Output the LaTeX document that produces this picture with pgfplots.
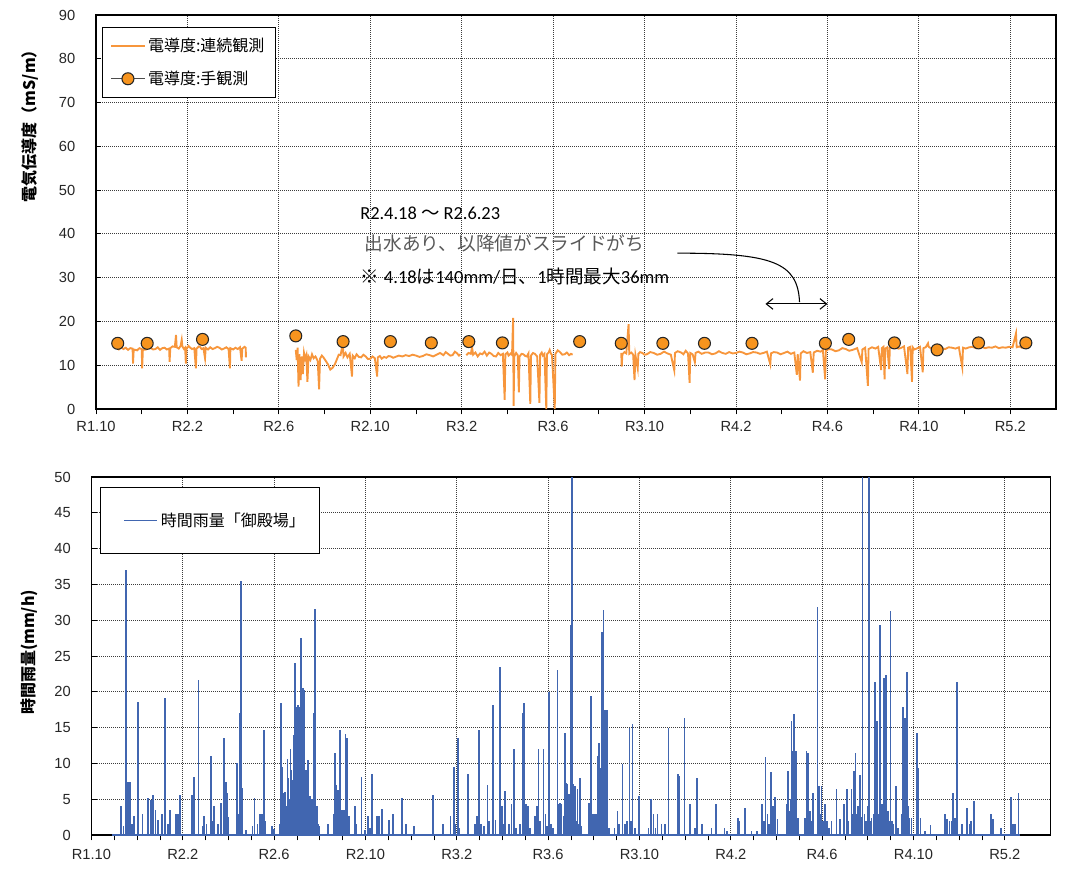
\documentclass[border=0pt]{standalone}
\usepackage{fontspec}
\setmainfont{Liberation Sans}
\newfontfamily\jp{Noto Sans CJK JP}
\newfontfamily\calib{Carlito}
\usepackage{pgfplots}
\pgfplotsset{compat=1.18}
\usetikzlibrary{arrows.meta}

\definecolor{ecorange}{RGB}{247,150,60}
\definecolor{markorange}{RGB}{247,148,30}
\definecolor{rainblue}{RGB}{65,102,176}
\definecolor{gridgray}{RGB}{60,60,60}
\definecolor{notegray}{RGB}{89,89,89}

% x axis: months counted from R1.10 (Oct 2019)
\pgfplotsset{
  panel/.style={
    scale only axis, xmin=0, xmax=42,
    xtick={0,4,...,40},
    xticklabels={R1.10,R2.2,R2.6,R2.10,R3.2,R3.6,R3.10,R4.2,R4.6,R4.10,R5.2},
    tick pos=left,
    grid=major,
    major grid style={gridgray, dash pattern=on 0.75pt off 0.75pt, line width=0.6pt},
    tick align=inside,
    major tick length=4pt, minor tick length=4pt,
    tick style={black, line width=0.6pt},
    x tick style={yshift=-4pt},
    axis line style={black, line width=0.8pt},
    ticklabel style={font=\fontsize{11}{13}\selectfont, text=black!85},
    yticklabel style={xshift=-12pt},
    /pgf/number format/assume math mode=true,
    legend cell align=left,
  },
  lineleg/.style={legend image code/.code={\draw[#1, line width=1.1pt] (0pt,0pt) -- (25pt,0pt);}},
  padlineleg/.style={legend image code/.code={\path (-8pt,0pt); \draw[#1, line width=1.1pt] (0pt,0pt) -- (25pt,0pt);}},
  markleg/.style={legend image code/.code={
    \draw[gray!60!black, line width=0.9pt] (0pt,0pt) -- (25pt,0pt);
    \draw[fill=markorange, draw=black!85, line width=0.8pt] (12.5pt,0pt) circle (4.5pt);}},
}

\begin{document}
\begin{tikzpicture}
\useasboundingbox (0pt,0pt) rectangle (801.75pt,-651.75pt);

% ---------------- electrical conductivity ----------------
\begin{axis}[panel,
  at={(72pt,-11.25pt)}, anchor=north west,
  width=720pt, height=295.5pt,
  ymin=0, ymax=90, ytick={0,10,...,90},
  minor x tick num=1,
  xticklabel style={yshift=-5.8pt},
  ylabel={\jp\bfseries 電気伝導度（mS/m）},
  ylabel style={at={(axis description cs:-0.069,0.728)}, anchor=center, font=\fontsize{12}{14}\selectfont},
  unbounded coords=jump,
  legend style={at={(axis description cs:0.00625,0.9695)}, anchor=north west,
    draw=black, line width=0.8pt, fill=white, font=\jp\fontsize{12}{14}\selectfont,
    row sep=9pt, inner xsep=6pt, inner ysep=6pt},
]
\addplot[ecorange, line width=1.4pt, lineleg=ecorange]
  table[row sep=\\] {
x y\\
0.90 14.0\\ 1.00 13.6\\ 1.10 14.1\\ 1.20 13.7\\ 1.30 14.0\\ 1.40 13.5\\ 1.50 13.9\\ 1.60 13.8\\ 1.62 10.4\\ 1.65 13.6\\
1.80 13.4\\ 1.90 13.9\\ 2.00 13.7\\ 2.02 9.3\\ 2.05 13.5\\ 2.20 13.6\\ 2.30 14.0\\ 2.40 13.9\\ 2.50 13.6\\ 2.60 13.7\\
2.70 14.1\\ 2.80 13.5\\ 2.90 13.9\\ 3.00 14.0\\ 3.10 13.6\\ 3.20 13.8\\ 3.22 10.8\\ 3.25 13.9\\ 3.35 14.3\\ 3.45 14.2\\
3.50 16.9\\ 3.53 14.1\\ 3.62 13.8\\ 3.70 14.4\\ 3.75 15.8\\ 3.78 14.3\\ 3.85 13.7\\ 3.90 14.0\\ 3.93 10.4\\ 3.96 13.8\\
4.05 14.4\\ 4.10 14.1\\ 4.20 13.7\\ 4.30 13.9\\ 4.37 9.3\\ 4.40 13.8\\ 4.50 14.3\\ 4.55 14.2\\ 4.62 13.7\\ 4.70 13.9\\
4.77 11.6\\ 4.80 14.0\\ 4.90 13.6\\ 5.00 14.1\\ 5.10 13.7\\ 5.20 13.9\\ 5.30 14.2\\ 5.40 14.0\\ 5.50 13.6\\ 5.60 13.8\\
5.70 14.1\\ 5.80 13.7\\ 5.86 9.3\\ 5.88 13.9\\ 6.00 13.6\\ 6.10 14.0\\ 6.20 13.7\\ 6.30 14.1\\ 6.37 11.0\\ 6.40 13.8\\
6.50 14.2\\ 6.55 14.0\\ 6.56 11.8\\
6.60 nan\\
8.74 13.5\\ 8.78 11.2\\ 8.82 14.0\\ 8.86 5.1\\ 8.90 12.5\\ 8.95 6.6\\ 9.00 12.0\\ 9.05 8.0\\ 9.10 12.8\\ 9.15 11.5\\
9.20 12.3\\ 9.25 6.2\\ 9.30 12.0\\ 9.38 11.2\\ 9.45 12.5\\ 9.52 11.6\\ 9.60 12.0\\ 9.70 11.0\\ 9.76 4.5\\ 9.80 11.5\\
9.88 12.2\\ 9.95 11.8\\ 10.05 11.0\\ 10.15 10.2\\ 10.25 9.0\\ 10.35 9.4\\ 10.45 10.2\\ 10.55 11.5\\ 10.62 12.4\\ 10.70 12.3\\
10.80 15.0\\ 10.83 12.0\\ 10.92 12.8\\ 11.00 11.8\\ 11.10 12.6\\ 11.20 7.4\\ 11.23 12.2\\ 11.32 11.6\\ 11.40 12.5\\ 11.50 11.9\\
11.60 11.8\\ 11.70 12.4\\ 11.80 12.0\\ 11.90 11.4\\ 12.00 11.5\\ 12.10 12.0\\ 12.20 11.6\\ 12.30 7.4\\ 12.33 11.8\\ 12.42 12.1\\
12.50 11.5\\ 12.60 11.9\\ 12.70 11.7\\ 12.80 12.1\\ 12.90 12.0\\ 13.00 11.7\\ 13.10 11.9\\ 13.25 12.2\\ 13.40 12.0\\ 13.55 12.3\\
13.70 12.1\\ 13.85 12.4\\ 14.00 12.2\\ 14.15 11.9\\ 14.30 12.1\\ 14.45 12.5\\ 14.60 12.3\\ 14.75 12.0\\ 14.90 12.4\\ 15.05 12.8\\
15.20 12.3\\ 15.30 13.0\\ 15.40 12.6\\ 15.50 12.2\\ 15.60 12.3\\ 15.70 13.1\\ 15.80 12.7\\ 15.88 12.2\\ 15.94 12.5\\
16.00 nan\\
16.20 12.3\\ 16.30 12.8\\ 16.40 12.6\\ 16.45 14.2\\ 16.50 12.4\\ 16.60 12.9\\ 16.70 12.0\\ 16.80 12.7\\ 16.90 12.5\\ 17.00 13.1\\
17.10 12.2\\ 17.20 12.9\\ 17.30 12.6\\ 17.40 12.1\\ 17.50 12.0\\ 17.60 12.8\\ 17.70 12.3\\ 17.80 12.6\\ 17.88 2.1\\ 17.91 12.5\\
18.00 12.9\\ 18.05 12.2\\ 18.15 12.7\\ 18.20 12.4\\ 18.25 20.8\\ 18.27 0.7\\ 18.30 12.0\\ 18.38 12.8\\ 18.45 12.3\\ 18.50 3.8\\
18.53 12.0\\ 18.62 12.6\\ 18.70 12.5\\ 18.78 12.1\\ 18.85 12.0\\ 18.92 12.7\\ 19.00 1.2\\ 19.03 12.2\\ 19.12 12.8\\ 19.20 12.6\\
19.30 12.0\\ 19.40 1.4\\ 19.43 12.4\\ 19.50 12.9\\ 19.55 12.2\\ 19.62 12.6\\ 19.70 0.0\\ 19.73 12.5\\ 19.80 12.9\\ 19.85 13.5\\
19.90 12.7\\ 19.95 12.3\\ 20.07 0.0\\ 20.10 12.6\\ 20.20 13.4\\ 20.30 13.0\\ 20.40 12.4\\ 20.50 12.5\\ 20.60 12.9\\ 20.70 12.3\\
20.78 12.6\\ 20.85 12.4\\
20.90 nan\\
22.98 12.8\\ 23.00 9.7\\ 23.03 12.5\\ 23.12 13.0\\ 23.20 12.7\\ 23.30 19.4\\ 23.33 12.6\\ 23.42 12.9\\ 23.50 12.4\\ 23.56 6.6\\
23.60 12.3\\ 23.70 9.3\\ 23.73 12.6\\ 23.80 13.0\\ 23.90 12.8\\ 24.00 12.4\\ 24.10 12.5\\ 24.25 13.0\\ 24.40 12.8\\ 24.55 12.4\\
24.70 12.6\\ 24.85 13.1\\ 25.00 12.7\\ 25.15 12.4\\ 25.30 8.8\\ 25.33 12.8\\ 25.45 13.2\\ 25.60 12.9\\ 25.70 12.5\\ 25.80 13.3\\
25.90 12.7\\ 25.97 6.0\\ 26.00 12.8\\ 26.10 12.5\\ 26.20 10.7\\ 26.23 12.8\\ 26.35 13.1\\ 26.50 12.6\\ 26.65 12.9\\ 26.80 12.9\\
26.95 12.5\\ 27.10 12.7\\ 27.25 13.2\\ 27.40 12.8\\ 27.55 12.6\\ 27.70 13.0\\ 27.85 12.7\\ 28.00 12.8\\ 28.15 13.1\\ 28.30 12.9\\
28.45 12.5\\ 28.60 12.7\\ 28.75 13.0\\ 28.90 12.9\\ 29.05 12.6\\ 29.20 12.8\\ 29.35 13.1\\ 29.50 10.2\\ 29.53 12.7\\ 29.65 13.0\\
29.80 12.9\\ 29.95 12.5\\ 30.10 12.8\\ 30.25 13.1\\ 30.40 12.6\\ 30.55 12.9\\ 30.66 7.8\\ 30.70 12.5\\ 30.80 6.5\\ 30.83 12.7\\
30.95 13.2\\ 31.10 12.8\\ 31.25 13.0\\ 31.36 8.3\\ 31.40 12.9\\ 31.55 13.3\\ 31.70 13.1\\ 31.80 13.5\\ 31.90 6.8\\ 31.93 13.3\\
32.05 13.7\\ 32.20 13.6\\ 32.35 13.2\\ 32.50 13.4\\ 32.65 13.9\\ 32.80 13.7\\ 32.95 13.3\\ 33.10 13.5\\ 33.30 13.9\\ 33.50 10.7\\
33.53 13.6\\ 33.65 14.0\\ 33.77 5.3\\ 33.80 13.7\\ 33.95 14.1\\ 34.10 13.8\\ 34.22 14.2\\ 34.35 8.9\\ 34.38 13.9\\ 34.45 14.2\\
34.50 6.8\\ 34.53 13.8\\ 34.62 14.1\\ 34.70 9.1\\ 34.73 14.0\\ 34.85 14.3\\ 35.00 14.1\\ 35.10 13.8\\ 35.20 13.9\\ 35.35 14.3\\
35.50 8.0\\ 35.53 14.0\\ 35.62 14.2\\ 35.70 6.2\\ 35.73 14.1\\ 35.80 13.6\\ 35.90 13.8\\ 36.05 14.2\\ 36.17 8.4\\ 36.20 13.9\\
36.30 14.1\\ 36.40 15.0\\ 36.43 14.2\\ 36.55 13.8\\ 36.70 14.0\\ 36.85 14.3\\ 37.00 13.9\\ 37.15 13.7\\ 37.30 14.1\\ 37.45 14.0\\
37.60 13.8\\ 37.75 14.1\\ 37.90 9.5\\ 37.93 14.0\\ 38.05 13.8\\ 38.20 14.1\\ 38.35 14.2\\ 38.50 13.9\\ 38.60 15.5\\ 38.63 14.0\\
38.75 14.2\\ 38.90 13.9\\ 39.05 14.1\\ 39.20 14.0\\ 39.35 14.3\\ 39.50 13.9\\ 39.65 14.1\\ 39.80 14.0\\ 39.95 14.2\\ 40.10 14.1\\
40.25 17.3\\ 40.28 14.1\\ 40.40 14.3\\ 40.50 14.0\\ 40.65 14.2\\ 40.80 14.0\\
};
\addlegendentry{電導度:連続観測}

\addplot[only marks, mark=*, mark size=4.5pt,
  mark options={fill=markorange, draw=black!85, line width=0.8pt}, markleg]
  table[row sep=\\] {
x y\\
0.95 15.0\\ 2.24 15.0\\ 4.66 15.9\\ 8.74 16.7\\ 10.81 15.4\\ 12.88 15.4\\ 14.67 15.1\\
16.31 15.4\\ 17.78 15.1\\ 21.16 15.4\\ 22.98 15.0\\ 24.80 15.0\\ 26.62 15.0\\ 28.70 15.0\\
31.91 15.0\\ 32.93 15.9\\ 34.93 15.1\\ 36.80 13.5\\ 38.61 15.1\\ 40.68 15.1\\
};
\addlegendentry{電導度:手観測}

% note on the flood event
\node[anchor=west, inner sep=0pt, font=\fontsize{13.8}{16}\selectfont]
  at (axis cs:11.55,44.8) {\calib R2.4.18 {\jp 〜} R2.6.23};
\node[anchor=west, inner sep=0pt, font=\fontsize{14}{16}\selectfont, text=notegray]
  at (axis cs:11.75,37.9) {\jp 出水あり、以降値がスライドがち};
\node[anchor=west, inner sep=0pt, font=\fontsize{13.9}{16}\selectfont]
  at (axis cs:11.55,30.2) {{\jp ※} \calib 4.18{\jp は}140mm/{\jp 日、}1{\jp 時間最大}36mm};
\draw[black, line width=0.8pt] (axis cs:25.44,35.6) .. controls (axis cs:29.6,35.6) and (axis cs:30.7,33.5) .. (axis cs:30.78,24.4);
\draw[black, line width=0.8pt, {Straight Barb[length=5pt,width=8pt]}-{Straight Barb[length=5pt,width=8pt]}]
  (axis cs:29.29,24.0) -- (axis cs:32.0,24.0);
\end{axis}

% ---------------- hourly rainfall ----------------
\begin{axis}[panel,
  at={(68.6pt,-357.75pt)}, anchor=north west,
  width=719.25pt, height=268.5pt,
  ymin=0, ymax=50, ytick={0,5,...,50},
  minor x tick num=3,
  xticklabel style={yshift=-7.5pt},
  ylabel={\jp\bfseries 時間雨量(mm/h)},
  ylabel style={at={(axis description cs:-0.065,0.51)}, anchor=center, font=\fontsize{12}{14}\selectfont},
  legend style={at={(axis description cs:0.0089,0.972)}, anchor=north west,
    draw=black, line width=0.8pt, fill=white, font=\jp\fontsize{12}{14}\selectfont,
    inner xsep=9pt, inner ysep=17pt},
]
\addplot[ycomb, rainblue, line width=1.3pt, no markers, padlineleg=rainblue]
  table[row sep=\\] {
x y\\
1.30 4.0\\ 1.40 1.2\\ 1.52 37.0\\ 1.60 7.4\\ 1.69 7.4\\ 1.78 1.6\\ 1.85 2.6\\ 2.03 18.6\\ 2.24 3.0\\ 2.49 5.1\\
2.61 4.9\\ 2.68 5.6\\ 2.80 3.5\\ 2.90 2.1\\ 3.09 3.0\\ 3.22 19.1\\ 3.34 1.6\\ 3.45 3.5\\ 3.70 3.0\\ 3.79 3.0\\
3.88 5.6\\ 4.39 5.6\\ 4.45 2.0\\ 4.50 8.1\\ 4.69 21.6\\ 4.87 1.2\\ 4.94 2.6\\ 5.04 1.6\\ 5.23 11.0\\ 5.30 2.0\\
5.38 4.0\\ 5.54 1.6\\ 5.68 4.5\\ 5.80 13.5\\ 5.85 3.0\\ 5.89 7.4\\ 5.96 5.8\\ 6.00 2.5\\ 6.37 10.0\\ 6.45 3.0\\
6.50 17.0\\ 6.54 35.5\\ 6.58 4.0\\ 6.62 6.5\\ 6.76 0.7\\ 7.05 1.2\\ 7.14 5.1\\ 7.27 1.6\\ 7.39 3.0\\ 7.46 3.0\\
7.56 14.6\\ 7.62 2.0\\ 7.90 1.2\\ 8.00 0.9\\ 8.25 1.6\\ 8.30 18.5\\ 8.36 9.5\\ 8.40 3.0\\ 8.44 5.8\\ 8.48 6.0\\
8.52 4.0\\ 8.58 10.6\\ 8.62 8.0\\ 8.65 3.0\\ 8.70 5.0\\ 8.72 12.0\\ 8.76 9.1\\ 8.80 6.0\\ 8.83 7.7\\ 8.86 14.0\\
8.88 9.0\\ 8.92 24.0\\ 8.94 12.0\\ 8.96 16.0\\ 8.98 17.9\\ 9.00 10.0\\ 9.01 13.0\\ 9.03 18.2\\ 9.05 8.0\\ 9.07 11.0\\
9.09 15.1\\ 9.11 9.0\\ 9.13 17.9\\ 9.15 12.0\\ 9.17 8.0\\ 9.19 27.5\\ 9.21 14.0\\ 9.23 10.0\\ 9.25 20.5\\ 9.27 6.0\\
9.29 8.0\\ 9.31 20.3\\ 9.33 5.0\\ 9.35 7.0\\ 9.38 9.1\\ 9.41 4.0\\ 9.45 6.0\\ 9.49 10.5\\ 9.52 3.0\\ 9.56 5.4\\
9.59 2.0\\ 9.63 4.0\\ 9.66 5.0\\ 9.70 3.0\\ 9.72 8.0\\ 9.75 17.0\\ 9.80 31.5\\ 9.84 2.0\\ 9.88 4.0\\ 9.92 1.5\\
9.97 1.2\\ 10.35 1.6\\ 10.62 3.0\\ 10.67 11.5\\ 10.70 5.0\\ 10.73 7.0\\ 10.77 4.0\\ 10.80 6.3\\ 10.84 3.0\\ 10.87 14.6\\
10.90 5.0\\ 10.94 3.5\\ 10.98 2.5\\ 11.02 3.5\\ 11.06 2.0\\ 11.09 3.5\\ 11.13 14.1\\ 11.16 4.0\\ 11.19 13.5\\ 11.23 2.0\\
11.28 2.6\\ 11.54 4.0\\ 11.61 1.6\\ 11.83 8.1\\ 11.98 0.7\\ 12.12 2.6\\ 12.20 1.0\\ 12.27 8.5\\ 12.52 2.6\\ 12.59 2.6\\
12.71 3.6\\ 13.03 2.1\\ 13.20 3.0\\ 13.61 5.1\\ 13.78 1.6\\ 14.12 1.2\\ 14.95 5.6\\ 15.38 1.6\\ 15.72 2.6\\ 15.87 9.5\\
15.94 1.6\\ 16.06 13.5\\ 16.12 1.0\\ 16.50 8.5\\ 16.79 1.6\\ 16.89 2.6\\ 16.97 14.6\\ 17.05 1.6\\ 17.18 1.2\\ 17.35 7.0\\
17.42 2.0\\ 17.59 18.1\\ 17.69 2.1\\ 17.88 23.5\\ 17.98 4.0\\ 18.04 1.5\\ 18.10 6.1\\ 18.27 1.6\\ 18.39 4.4\\ 18.49 12.0\\
18.60 1.0\\ 18.78 1.6\\ 18.88 17.0\\ 18.94 18.5\\ 19.03 4.4\\ 19.12 4.0\\ 19.20 1.0\\ 19.44 2.6\\ 19.51 4.0\\ 19.58 12.0\\
19.65 2.0\\ 19.80 12.0\\ 19.88 3.0\\ 19.95 1.2\\ 20.05 20.0\\ 20.11 1.6\\ 20.20 1.0\\ 20.41 23.0\\ 20.49 4.4\\ 20.53 4.5\\
20.57 4.4\\ 20.67 2.6\\ 20.75 14.3\\ 20.78 7.2\\ 20.82 7.1\\ 20.88 3.0\\ 20.92 5.7\\ 20.99 29.4\\ 21.04 60.0\\ 21.08 3.0\\
21.11 7.1\\ 21.15 2.0\\ 21.19 6.8\\ 21.24 2.0\\ 21.29 6.4\\ 21.33 1.5\\ 21.38 7.9\\ 21.45 1.3\\ 21.80 4.5\\ 21.87 19.4\\
21.92 2.0\\ 21.96 2.9\\ 22.03 2.9\\ 22.10 3.0\\ 22.18 11.0\\ 22.20 8.0\\ 22.24 12.9\\ 22.27 6.0\\ 22.31 9.4\\ 22.34 10.0\\
22.37 28.3\\ 22.40 12.0\\ 22.43 31.4\\ 22.46 9.0\\ 22.50 17.4\\ 22.53 7.0\\ 22.57 17.4\\ 22.60 3.0\\ 22.65 1.0\\ 22.91 1.0\\
23.04 3.4\\ 23.11 1.5\\ 23.26 9.9\\ 23.35 1.5\\ 23.45 2.0\\ 23.56 15.0\\ 23.62 2.0\\ 23.69 15.5\\ 23.81 1.0\\ 23.98 5.4\\
24.39 1.0\\ 24.51 5.0\\ 24.61 2.9\\ 24.70 1.0\\ 24.79 2.9\\ 24.97 1.5\\ 25.12 1.5\\ 25.27 14.9\\ 25.68 8.5\\ 25.73 8.2\\
25.97 16.4\\ 26.21 4.4\\ 26.43 1.0\\ 26.51 7.9\\ 26.75 1.5\\ 27.16 1.0\\ 27.34 4.4\\ 27.72 1.0\\ 27.82 0.6\\ 28.30 2.4\\
28.37 2.0\\ 28.62 3.8\\ 28.91 0.6\\ 29.16 0.6\\ 29.38 4.4\\ 29.45 2.0\\ 29.52 10.9\\ 29.61 2.9\\ 29.68 1.5\\ 29.76 8.8\\
29.86 4.1\\ 29.93 5.3\\ 30.05 2.3\\ 30.44 4.4\\ 30.48 2.0\\ 30.52 8.9\\ 30.59 3.4\\ 30.63 5.0\\ 30.66 15.9\\ 30.70 4.0\\
30.73 11.7\\ 30.78 16.9\\ 30.84 11.8\\ 30.88 3.0\\ 30.93 2.4\\ 31.24 2.4\\ 31.32 11.8\\ 31.39 11.5\\ 31.47 3.4\\ 31.55 2.0\\
31.61 5.9\\ 31.80 31.9\\ 31.84 4.0\\ 31.87 6.8\\ 31.92 3.0\\ 31.97 6.8\\ 32.05 2.0\\ 32.12 4.4\\ 32.22 2.0\\ 32.30 1.0\\
32.41 2.0\\ 32.63 6.4\\ 32.77 2.3\\ 32.96 4.4\\ 33.09 6.4\\ 33.15 2.0\\ 33.28 6.4\\ 33.33 3.0\\ 33.39 8.9\\ 33.46 11.4\\
33.52 3.0\\ 33.58 4.0\\ 33.65 8.4\\ 33.70 2.5\\ 33.77 65.0\\ 33.85 3.0\\ 33.92 2.0\\ 34.00 4.0\\ 34.06 58.0\\ 34.11 2.0\\
34.16 2.4\\ 34.25 3.0\\ 34.31 21.4\\ 34.36 5.0\\ 34.41 15.9\\ 34.47 3.0\\ 34.52 29.4\\ 34.58 2.0\\ 34.63 4.3\\ 34.68 3.0\\
34.72 21.9\\ 34.79 22.4\\ 34.84 2.0\\ 34.89 3.4\\ 34.94 2.0\\ 34.99 31.3\\ 35.05 2.0\\ 35.10 1.5\\ 35.22 6.8\\ 35.32 1.0\\
35.48 3.0\\ 35.54 17.9\\ 35.58 10.0\\ 35.62 16.4\\ 35.66 8.0\\ 35.72 22.8\\ 35.76 4.0\\ 35.79 2.4\\ 35.91 2.4\\ 36.15 14.3\\
36.22 9.4\\ 36.31 2.4\\ 36.49 0.6\\ 36.75 1.4\\ 37.39 2.9\\ 37.48 2.3\\ 37.58 2.0\\ 37.66 2.0\\ 37.73 5.9\\ 37.83 2.4\\
37.92 21.4\\ 38.12 1.5\\ 38.35 3.8\\ 38.45 1.5\\ 38.53 2.0\\ 38.65 4.8\\ 39.40 2.9\\ 39.48 2.2\\ 39.84 1.0\\ 40.28 5.3\\
40.35 1.5\\ 40.45 1.5\\ 40.60 5.9\\
};
\addlegendentry{時間雨量「御殿場」}
\addplot[rainblue, line width=1.1pt, forget plot] table[row sep=\\] {x y\\ 0.90 0\\ 40.65 0\\};
\end{axis}
\end{tikzpicture}
\end{document}
